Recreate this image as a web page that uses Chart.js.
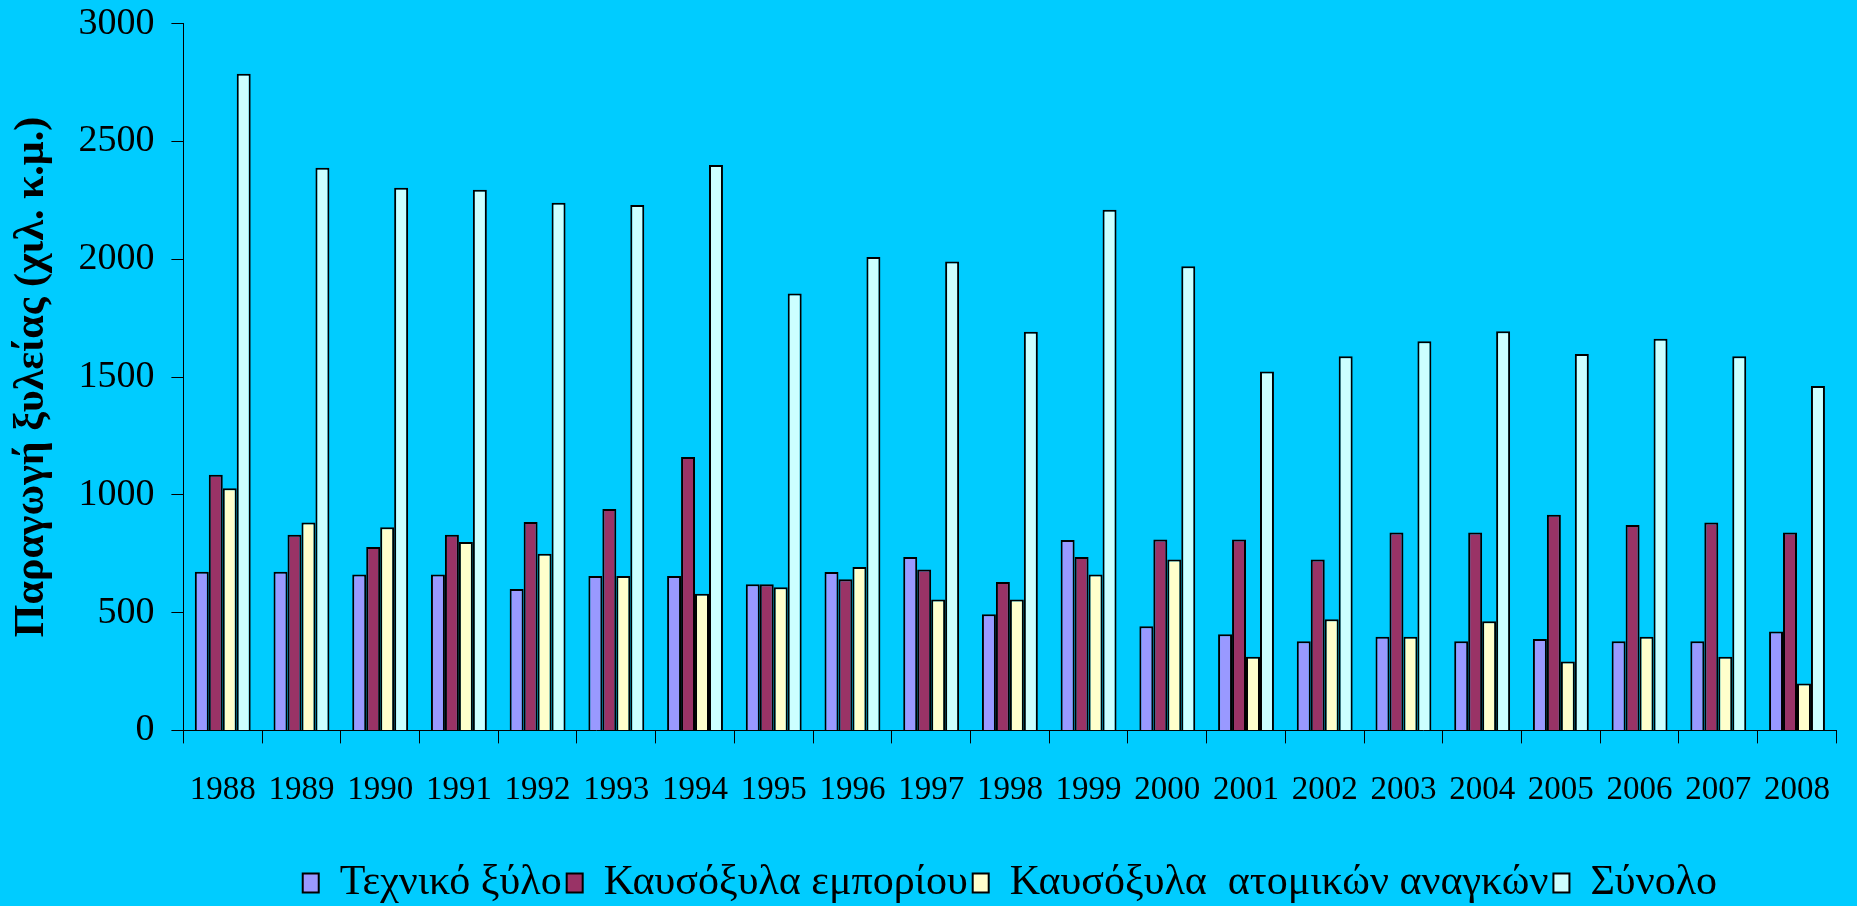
<!DOCTYPE html>
<html>
<head>
<meta charset="utf-8">
<script src="https://cdn.jsdelivr.net/npm/chart.js@4"></script>
<style>
  html, body { margin: 0; padding: 0; background: #00CCFF; }
  #wrap { width: 1857px; height: 906px; }
</style>
</head>
<body>
<div id="wrap"><canvas id="chart" width="1857" height="906"></canvas></div>
<script>
// data (thousand m3)
const years = ["1988","1989","1990","1991","1992","1993","1994","1995","1996","1997","1998",
  "1999","2000","2001","2002","2003","2004","2005","2006","2007","2008"];
const technical = [673, 673, 662, 662, 600, 655, 655, 620, 672, 736, 493, 808, 442, 408, 378, 398, 378, 388, 378, 378, 420];
const firewoodTrade = [1085, 830, 778, 830, 885, 940, 1160, 620, 642, 683, 630, 736, 810, 810, 725, 840, 840, 915, 872, 882, 840];
const firewoodOwn = [1028, 882, 862, 800, 750, 655, 580, 608, 694, 556, 556, 662, 725, 313, 472, 398, 463, 292, 398, 313, 199];
const total = [2787, 2388, 2303, 2295, 2240, 2230, 2400, 1855, 2010, 1990, 1692, 2210, 1970, 1523, 1588, 1652, 1694, 1598, 1662, 1588, 1462];
const yTicks = [0, 500, 1000, 1500, 2000, 2500, 3000];

const serif = "'Liberation Serif', 'Times New Roman', serif";

function ds(label, data, color) {
  return {
    label, data,
    backgroundColor: color,
    borderColor: "#000",
    borderWidth: 2,
    borderSkipped: "bottom",
    categoryPercentage: 0.71,
    barPercentage: 1.0
  };
}

new Chart(document.getElementById("chart"), {
  type: "bar",
  data: {
    labels: years,
    datasets: [
      ds("Τεχνικό ξύλο", technical, "#9999FF"),
      ds("Καυσόξυλα εμπορίου", firewoodTrade, "#993366"),
      ds("Καυσόξυλα  ατομικών αναγκών", firewoodOwn, "#FFFFCC"),
      ds("Σύνολο", total, "#CCFFFF")
    ]
  },
  options: {
    responsive: false,
    animation: false,
    layout: { padding: { top: 0, right: 0, left: 7, bottom: -8 } },
    plugins: {
      tooltip: { enabled: false },
      legend: {
        position: "bottom",
        fullSize: false,
        labels: {
          color: "#000",
          font: { family: serif, size: 42 },
          boxWidth: 16,
          boxHeight: 19,
          padding: 5,
          useBorderRadius: false
        }
      }
    },
    scales: {
      x: {
        grid: { display: true, drawOnChartArea: false, drawTicks: true, tickLength: 13, color: "#000", offset: true },
        border: { display: true, color: "#000", width: 1 },
        ticks: { color: "#000", font: { family: serif, size: 33 }, padding: 27, maxRotation: 0, autoSkip: false },
        title: { display: true, text: " ", font: { size: 10 }, padding: { top: 2, bottom: 6 } }
      },
      y: {
        min: 0,
        max: 3000,
        afterBuildTicks: axis => { axis.ticks = yTicks.map(v => ({ value: v })); },
        grid: { display: true, drawOnChartArea: false, drawTicks: true, tickLength: 12, color: "#000" },
        border: { display: true, color: "#000", width: 1 },
        ticks: { color: "#000", font: { family: serif, size: 38, lineHeight: 0.35 }, padding: 17, callback: v => String(v) },
        title: {
          display: true,
          text: "Παραγωγή ξυλείας (χιλ. κ.μ.)",
          color: "#000",
          font: { family: serif, size: 42, weight: "bold" },
          padding: { top: 0, bottom: 4 }
        }
      }
    }
  }
});
</script>
</body>
</html>
